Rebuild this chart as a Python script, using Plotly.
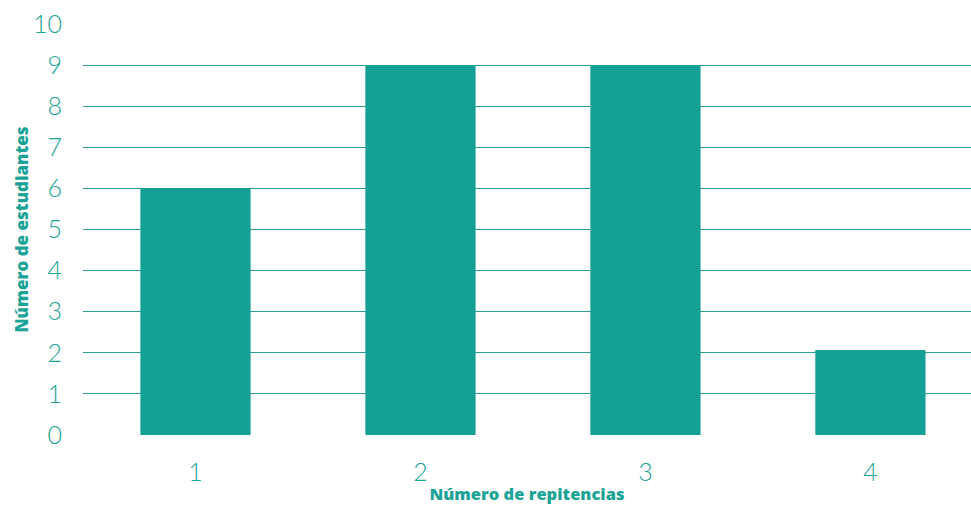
import plotly.graph_objects as go

categories = [1, 2, 3, 4]
students = [6, 9, 9, 2.07]
y_ticks = list(range(0, 11))

teal = "#15a097"
text_teal = "#1aa396"

fig = go.Figure(
    go.Bar(
        x=categories,
        y=students,
        marker=dict(color=teal, line=dict(width=0)),
        width=0.49,
    )
)

fig.update_layout(
    width=971,
    height=505,
    margin=dict(l=83, r=0, t=24, b=70),
    paper_bgcolor="white",
    plot_bgcolor="white",
    showlegend=False,
    font=dict(family="Lato, Open Sans, sans-serif", color=text_teal),
)

fig.update_xaxes(
    range=[0.5, 4.447],
    tickvals=categories,
    ticktext=[str(c) for c in categories],
    showgrid=False,
    zeroline=False,
    showline=False,
    ticks="",
    tickfont=dict(family="Lato", size=25, color=text_teal, weight=300),
    ticklabelstandoff=20,
    title=dict(
        text="Número de repitencias",
        font=dict(family="Open Sans", size=16.5, color=text_teal, weight=800),
        standoff=8,
    ),
)

fig.update_yaxes(
    range=[0, 10],
    tickvals=y_ticks,
    showgrid=True,
    gridcolor="#2a9d94",
    gridwidth=1,
    zeroline=False,
    showline=False,
    ticks="",
    tickfont=dict(family="Lato", size=25, color=text_teal, weight=300),
    ticklabelstandoff=20,
    title=dict(
        text="Número de estudiantes",
        font=dict(family="Open Sans", size=17, color=text_teal, weight=800),
        standoff=0,
    ),
)

fig.write_html("out.html")
